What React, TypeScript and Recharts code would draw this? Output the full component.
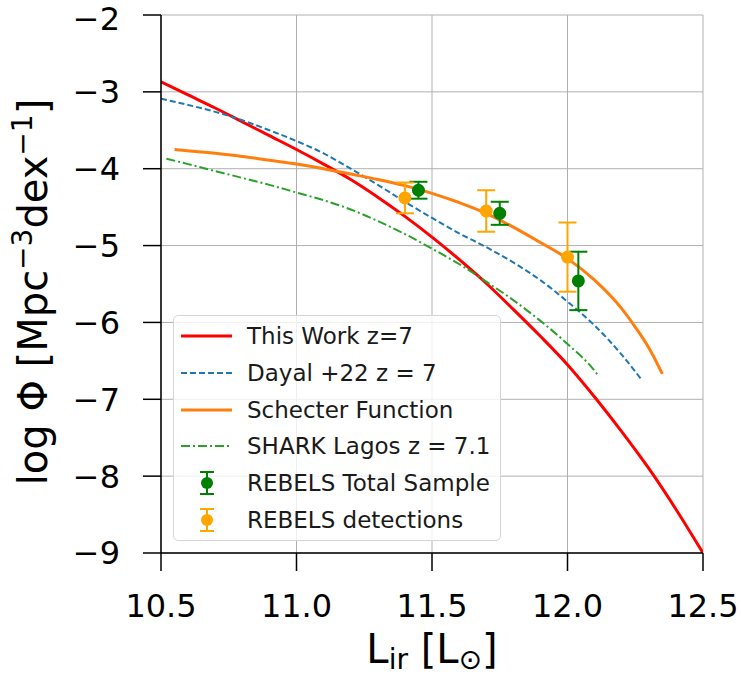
import React from 'react';
import { ComposedChart, Line, Scatter, ErrorBar, XAxis, YAxis, CartesianGrid, Legend } from 'recharts';

// luminosity function curves (x = log L_ir, y = log Phi)
const thisWorkX = [10.5, 10.6, 10.7, 10.8, 10.9, 11.0, 11.1, 11.2, 11.3, 11.4, 11.5, 11.6, 11.7, 11.8, 11.9, 12.0, 12.1, 12.2, 12.3, 12.4, 12.5];
const thisWorkY = [-2.87, -3.04, -3.21, -3.39, -3.57, -3.75, -3.94, -4.14, -4.37, -4.62, -4.89, -5.18, -5.49, -5.83, -6.18, -6.55, -6.97, -7.42, -7.9, -8.43, -9.0];

const dayalX = [10.5, 10.6, 10.7, 10.8, 10.9, 11.0, 11.1, 11.2, 11.3, 11.4, 11.5, 11.6, 11.7, 11.8, 11.9, 12.0, 12.1, 12.2, 12.27];
const dayalY = [-3.09, -3.17, -3.26, -3.37, -3.5, -3.64, -3.8, -4.0, -4.21, -4.43, -4.64, -4.84, -5.02, -5.22, -5.45, -5.73, -6.04, -6.42, -6.73];

const schechterX = [10.55, 10.7, 10.8, 10.9, 11.0, 11.1, 11.2, 11.3, 11.4, 11.5, 11.6, 11.7, 11.8, 11.9, 12.0, 12.1, 12.2, 12.25, 12.3, 12.35];
const schechterY = [-3.75, -3.8, -3.84, -3.89, -3.94, -4.0, -4.07, -4.14, -4.22, -4.32, -4.44, -4.58, -4.76, -4.96, -5.17, -5.45, -5.82, -6.06, -6.33, -6.67];

const sharkX = [10.52, 10.6, 10.7, 10.8, 10.9, 11.0, 11.1, 11.2, 11.3, 11.4, 11.5, 11.6, 11.7, 11.8, 11.9, 12.0, 12.1, 12.115];
const sharkY = [-3.87, -3.94, -4.03, -4.12, -4.21, -4.31, -4.41, -4.53, -4.68, -4.85, -5.04, -5.24, -5.47, -5.71, -5.98, -6.28, -6.63, -6.7];

// REBELS points
const totalX = [11.45, 11.75, 12.04];
const totalY = [-4.28, -4.58, -5.46];
const totalErr = [0.11, 0.15, 0.38];

const detX = [11.4, 11.7, 12.0];
const detY = [-4.38, -4.55, -5.15];
const detErr = [0.2, 0.27, 0.45];

const xTicks = [10.5, 11.0, 11.5, 12.0, 12.5];
const yTicks = [-9, -8, -7, -6, -5, -4, -3, -2];

const legendNames = ['This Work z=7', 'Dayal +22 z = 7', 'Schecter Function', 'SHARK Lagos z = 7.1', 'REBELS Total Sample', 'REBELS detections'];

const rows = (xs: number[], ys: number[]) => xs.map((x, i) => ({ x, y: ys[i] }));
const errRows = (xs: number[], ys: number[], es: number[]) => xs.map((x, i) => ({ x, y: ys[i], err: es[i] }));

const RED = '#ff0000';
const BLUE = '#1f77b4';
const ORANGE = '#ff7f0e';
const GREEN = '#2ca02c';
const PT_GREEN = '#008000';
const PT_ORANGE = '#ffa500';
const FONT = 'DejaVu Sans, sans-serif';

const dot = (color: string) => (p: any) => <circle cx={p.cx} cy={p.cy} r={6.5} fill={color} />;

const LegendBox = () => {
  const handles = [
    <line x1={7} x2={58} y1={11} y2={11} stroke={RED} strokeWidth={3} />,
    <line x1={7} x2={58} y1={11} y2={11} stroke={BLUE} strokeWidth={2} strokeDasharray="6 3" />,
    <line x1={7} x2={58} y1={11} y2={11} stroke={ORANGE} strokeWidth={3} />,
    <line x1={7} x2={58} y1={11} y2={11} stroke={GREEN} strokeWidth={2} strokeDasharray="9 3 2 3" />,
  ];
  const errHandle = (c: string) => (
    <g stroke={c} strokeWidth={2}>
      <line x1={33} x2={33} y1={0} y2={22} />
      <line x1={26} x2={40} y1={0} y2={0} />
      <line x1={26} x2={40} y1={22} y2={22} />
      <circle cx={33} cy={11} r={6} fill={c} stroke="none" />
    </g>
  );
  handles.push(errHandle(PT_GREEN), errHandle(PT_ORANGE));
  return (
    <div
      style={{
        width: 328,
        height: 226,
        boxSizing: 'border-box',
        border: '1px solid #d5d5d5',
        borderRadius: 5,
        background: 'rgba(255,255,255,0.8)',
        paddingTop: 2,
        fontFamily: FONT,
        fontSize: 23,
        color: '#1a1a1a',
      }}
    >
      {legendNames.map((name, i) => (
        <div key={name} style={{ display: 'flex', alignItems: 'center', height: 36.7 }}>
          <svg width={73} height={22} style={{ overflow: 'visible', flexShrink: 0 }}>{handles[i]}</svg>
          <span style={{ whiteSpace: 'nowrap' }}>{name}</span>
        </div>
      ))}
    </div>
  );
};

const YLabel = () => (
  <text x={47} y={292} transform="rotate(-90 47 292)" textAnchor="middle" fontFamily={FONT} fontSize={40} fill="#000">
    log Φ [Mpc<tspan fontSize={28} dy={-15}>−3</tspan>
    <tspan dy={15}>dex</tspan>
    <tspan fontSize={28} dy={-15}>−1</tspan>
    <tspan dy={15}>]</tspan>
  </text>
);

const XLabel = () => (
  <text x={432} y={663} textAnchor="middle" fontFamily={FONT} fontSize={40} fill="#000">
    L<tspan fontSize={28} dy={6}>ir</tspan>
    <tspan dy={-6}> [L</tspan>
    <tspan fontSize={28} dy={6}>⊙</tspan>
    <tspan dy={-6}>]</tspan>
  </text>
);

export default function App() {
  const tickStyle = { fill: '#000', fontSize: 32, fontFamily: FONT };
  return (
    <div style={{ position: 'absolute', left: 0, top: 0, background: '#fff' }}>
      <ComposedChart width={741} height={676} margin={{ top: 15, right: 38, bottom: 13, left: 61 }}>
        <CartesianGrid stroke="#b0b0b0" strokeWidth={1} />
        <XAxis
          dataKey="x"
          type="number"
          domain={[10.5, 12.5]}
          ticks={xTicks}
          tickFormatter={(v: number) => v.toFixed(1)}
          tick={tickStyle}
          tickSize={18}
          tickMargin={23}
          height={110}
          axisLine={{ stroke: '#000', strokeWidth: 1.5 }}
          tickLine={{ stroke: '#000', strokeWidth: 1.5 }}
          allowDataOverflow
          label={<XLabel />}
        />
        <XAxis xAxisId="top" orientation="top" type="number" domain={[10.5, 12.5]} tick={false} tickLine={false} height={0} axisLine={{ stroke: '#000', strokeWidth: 1.5 }} />
        <YAxis
          type="number"
          domain={[-9, -2]}
          ticks={yTicks}
          tickFormatter={(v: number) => (v < 0 ? `−${Math.abs(v)}` : `${v}`)}
          tick={tickStyle}
          tickSize={18}
          tickMargin={23}
          width={100}
          axisLine={{ stroke: '#000', strokeWidth: 1.5 }}
          tickLine={{ stroke: '#000', strokeWidth: 1.5 }}
          allowDataOverflow
          label={<YLabel />}
        />
        <YAxis yAxisId="right" orientation="right" type="number" domain={[-9, -2]} tick={false} tickLine={false} width={0} axisLine={{ stroke: '#000', strokeWidth: 1.5 }} />
        <Line data={rows(thisWorkX, thisWorkY)} dataKey="y" type="monotone" stroke={RED} strokeWidth={3} dot={false} isAnimationActive={false} />
        <Line data={rows(dayalX, dayalY)} dataKey="y" type="monotone" stroke={BLUE} strokeWidth={2} strokeDasharray="6 3" dot={false} isAnimationActive={false} />
        <Line data={rows(schechterX, schechterY)} dataKey="y" type="monotone" stroke={ORANGE} strokeWidth={3} dot={false} isAnimationActive={false} />
        <Line data={rows(sharkX, sharkY)} dataKey="y" type="monotone" stroke={GREEN} strokeWidth={2} strokeDasharray="9 3 2 3" dot={false} isAnimationActive={false} />
        <Scatter data={errRows(totalX, totalY, totalErr)} dataKey="y" shape={dot(PT_GREEN)} isAnimationActive={false}>
          <ErrorBar dataKey="err" direction="y" width={9} stroke={PT_GREEN} strokeWidth={2} />
        </Scatter>
        <Scatter data={errRows(detX, detY, detErr)} dataKey="y" shape={dot(PT_ORANGE)} isAnimationActive={false}>
          <ErrorBar dataKey="err" direction="y" width={9} stroke={PT_ORANGE} strokeWidth={2} />
        </Scatter>
        <Legend layout="vertical" align="center" verticalAlign="middle" wrapperStyle={{ left: 173, top: 315, width: 328, height: 226 }} content={() => <LegendBox />} />
      </ComposedChart>
    </div>
  );
}
